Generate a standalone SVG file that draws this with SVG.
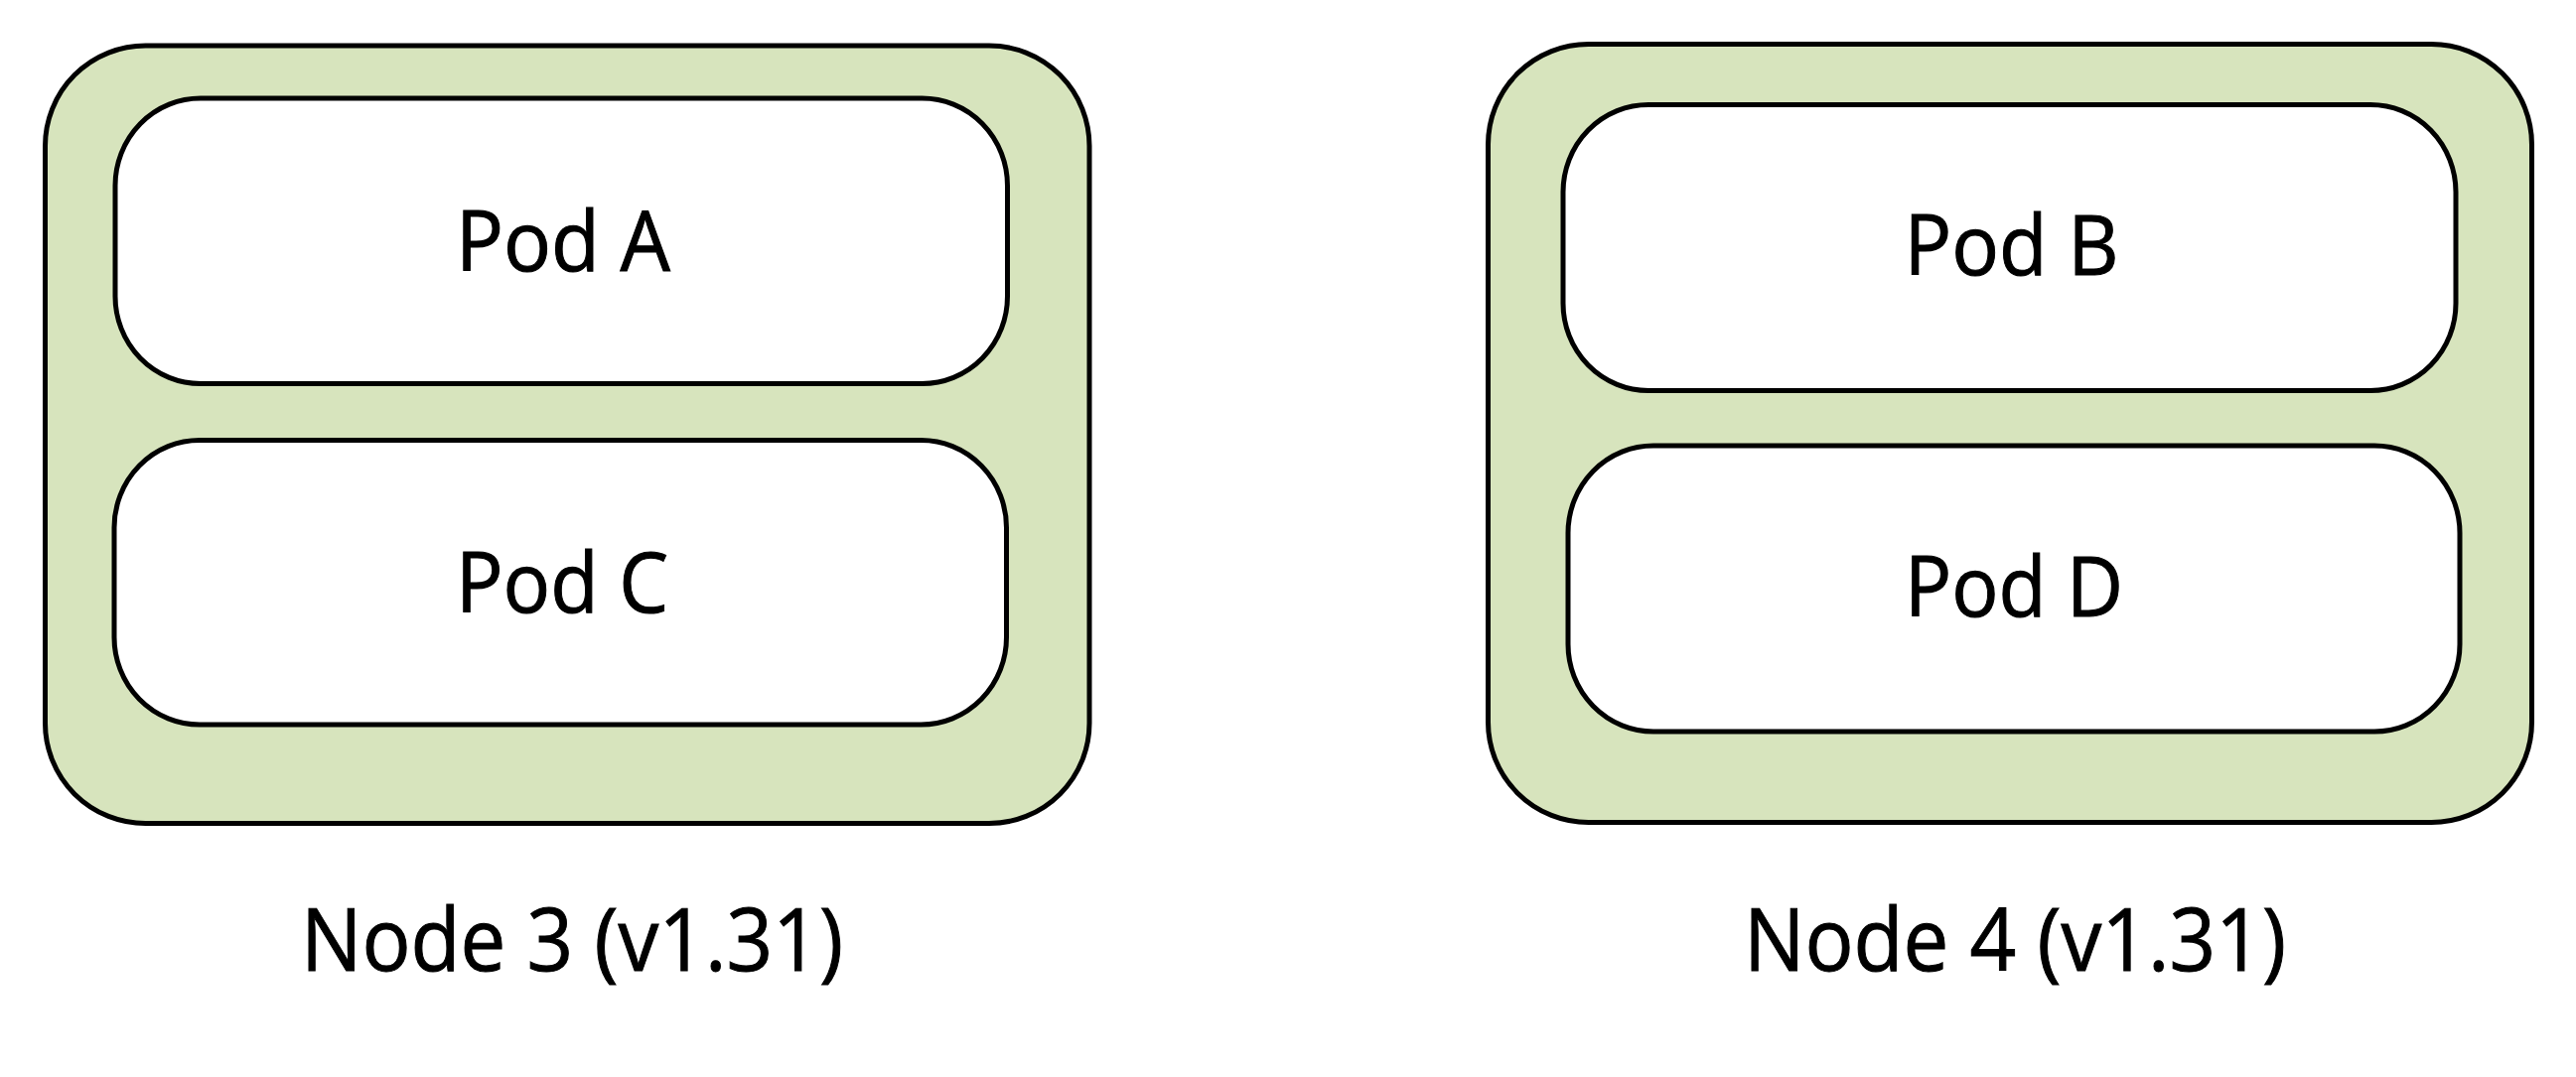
<svg xmlns="http://www.w3.org/2000/svg" width="2594" height="1085" viewBox="0 0 2594 1085">
<style>
.node{fill:#D7E4BD;stroke:#000;stroke-width:5}
.pod{fill:#FFFFFF;stroke:#000;stroke-width:5}
.pt{font-family:"Open Sans","Noto Sans","Liberation Sans",sans-serif;font-size:84px;fill:#000;stroke:#000;stroke-width:1;text-anchor:middle}
.lt{font-family:"Open Sans","Noto Sans","Liberation Sans",sans-serif;font-size:88px;fill:#000;stroke:#000;stroke-width:1;text-anchor:middle}
</style>
<rect width="2594" height="1085" fill="#FFFFFF"/>
<g id="node3">
<rect class="node" x="45.5" y="46" width="1051.5" height="783.5" rx="101" ry="101"/>
<text class="lt" x="576" y="978" textLength="546" lengthAdjust="spacingAndGlyphs">Node 3 (v1.31)</text>
</g>
<g id="podA">
<rect class="pod" x="116" y="99" width="898.5" height="287.5" rx="86" ry="88"/>
<text class="pt" x="567" y="273" textLength="216" lengthAdjust="spacingAndGlyphs">Pod A</text>
</g>
<g id="podC">
<rect class="pod" x="115" y="443.5" width="898.5" height="286.5" rx="86" ry="88"/>
<text class="pt" x="566" y="617" textLength="214" lengthAdjust="spacingAndGlyphs">Pod C</text>
</g>
<g id="node4">
<rect class="node" x="1498.5" y="44.5" width="1051" height="784" rx="101" ry="101"/>
<text class="lt" x="2029" y="978" textLength="546" lengthAdjust="spacingAndGlyphs">Node 4 (v1.31)</text>
</g>
<g id="podB">
<rect class="pod" x="1574" y="105.5" width="899" height="288" rx="86" ry="88"/>
<text class="pt" x="2025.5" y="277" textLength="216" lengthAdjust="spacingAndGlyphs">Pod B</text>
</g>
<g id="podD">
<rect class="pod" x="1579" y="449" width="898" height="288" rx="86" ry="88"/>
<text class="pt" x="2028" y="621" textLength="220" lengthAdjust="spacingAndGlyphs">Pod D</text>
</g>
<g id="connectors"></g>
</svg>
